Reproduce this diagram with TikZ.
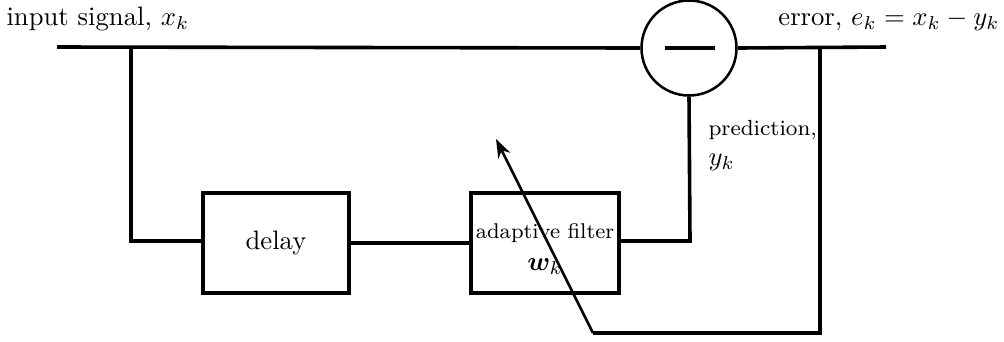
\documentclass[tikz,border=0pt]{standalone}
\usepackage{amsmath}
\usepackage{bm}
\usetikzlibrary{arrows.meta}
\begin{document}
\begin{tikzpicture}[x=0.375pt,y=-0.375pt,
  wire/.style={line width=1.35pt},
  blockbox/.style={draw,line width=1.35pt,minimum width=146*0.375pt,minimum height=100*0.375pt,inner sep=0pt},
  lbl/.style={inner sep=0pt}]
\useasboundingbox (0,0) rectangle (1004,341);
% nodes
\node[draw,circle,line width=0.95pt,minimum size=95*0.375pt,inner sep=0pt] (sum) at (689,48) {};
\node[blockbox] (delay) at (276,243) {delay};
\node[blockbox,minimum width=148*0.375pt] (filt) at (545,243) {};
\node[lbl,anchor=base] (ftxt) at (545,238) {\fontsize{8}{10}\selectfont adaptive filter};
\node[lbl,anchor=base] (fw) at (545,270) {$\bm{w}_k$};
\coordinate (inL) at (57,47);
\coordinate (outR) at (886,47);
\coordinate (tap) at (131,47);
\coordinate (tapB) at (131,241);
\coordinate (etap) at (820,47);
\coordinate (eB) at (820,333);
\coordinate (aB) at (593,333);
\coordinate (aT) at (496,139);
\coordinate (pC) at (690,241);
% minus sign
\draw[wire] (665,48) -- (715,48);
% wires
\draw[wire] (inL) -- (sum.west);
\draw[wire] (sum.east) -- (outR);
\draw[wire] (tap) -- (tapB) -- (delay.west |- tapB);
\draw[wire] (delay.east) -- (filt.west);
\draw[wire] (filt.east |- pC) -- (pC) -- (sum.south);
\draw[wire] (etap) -- (eB) -- (aB);
\draw[line width=0.95pt,-{Stealth[length=7pt,width=5pt]}] (aB) -- (aT);
% labels
\node[lbl,anchor=base west] (tin) at (6,25) {input signal, $x_k$};
\node[lbl,anchor=base east] (terr) at (1000,25) {error, $e_k = x_k - y_k$};
\node[lbl,anchor=base west] (tpred) at (708,135) {\fontsize{8.2}{10}\selectfont prediction,};
\node[lbl,anchor=base west] (tyk) at (708,165) {$y_k$};
\end{tikzpicture}
\end{document}
